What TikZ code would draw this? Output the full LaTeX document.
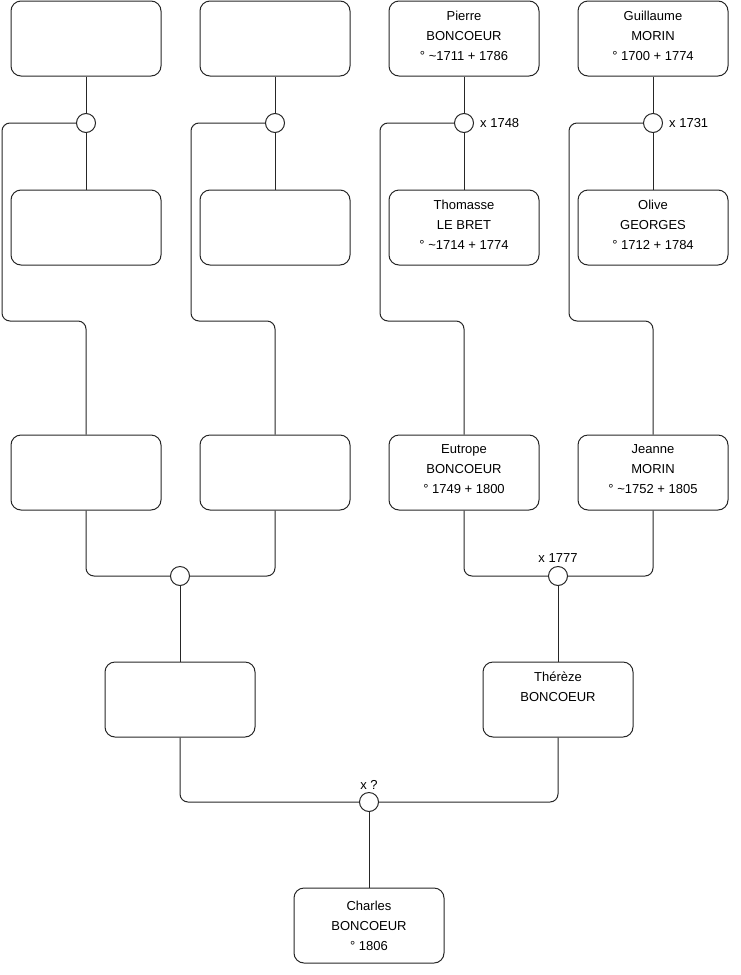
\documentclass[tikz,border=0pt]{standalone}
\usepackage{fontspec}
\setmainfont{Liberation Sans}
\begin{document}
\begin{tikzpicture}[x=1pt,y=-1pt,
  person/.style={draw=black!85,line width=1pt,rounded corners=10pt,minimum width=150pt,minimum height=75pt,inner sep=0pt},
  ptext/.style={inner sep=0pt,align=center,font=\fontsize{13}{20}\selectfont},
  union/.style={draw=black!85,line width=1pt,circle,minimum size=19pt,inner sep=0pt,fill=white},
  link/.style={draw=black!85,line width=1pt,rounded corners=8pt},
  lbl/.style={font=\fontsize{13}{16}\selectfont,inner sep=0pt}]
\useasboundingbox (0,0) rectangle (740,975);
% row 1
\node[person] (A) at (86,38.5) {};
\node[person] (B) at (275,38.5) {};
\node[person] (C) at (464,38.5) {};
\node[person] (D) at (653,38.5) {};
% row 2
\node[person] (A2) at (86,227.5) {};
\node[person] (B2) at (275,227.5) {};
\node[person] (C2) at (464,227.5) {};
\node[person] (D2) at (653,227.5) {};
% row 3
\node[person] (E) at (86,472.5) {};
\node[person] (F) at (275,472.5) {};
\node[person] (G) at (464,472.5) {};
\node[person] (H) at (653,472.5) {};
% row 4
\node[person] (L) at (180,699.5) {};
\node[person] (T) at (558,699.5) {};
% row 5
\node[person] (Ch) at (369,925.5) {};
% texts
\node[ptext] (Ct) at ([yshift=3pt]C.center) {Pierre\\BONCOEUR\\° \textasciitilde1711 + 1786};
\node[ptext] (Dt) at ([yshift=3pt]D.center) {Guillaume\\MORIN\\° 1700 + 1774};
\node[ptext] (C2t) at ([yshift=3pt]C2.center) {Thomasse\\LE BRET\\° \textasciitilde1714 + 1774};
\node[ptext] (D2t) at ([yshift=3pt]D2.center) {Olive\\GEORGES\\° 1712 + 1784};
\node[ptext] (Gt) at ([yshift=3pt]G.center) {Eutrope\\BONCOEUR\\° 1749 + 1800};
\node[ptext] (Ht) at ([yshift=3pt]H.center) {Jeanne\\MORIN\\° \textasciitilde1752 + 1805};
\node[ptext] (Tt) at ([yshift=3pt]T.center) {Thérèze\\BONCOEUR\\\mbox{}};
\node[ptext] (Cht) at ([yshift=0pt]Ch.center) {Charles\\BONCOEUR\\° 1806};
% unions
\node[union] (m1) at (86,123) {};
\node[union] (m2) at (275,123) {};
\node[union] (m3) at (464,123) {};
\node[union] (m4) at (653,123) {};
\node[union] (m5) at (180,576) {};
\node[union] (m6) at (558,576) {};
\node[union] (m7) at (369,802) {};
% labels
\node[lbl,anchor=west] (l3) at ([xshift=6pt]m3.east) {x 1748};
\node[lbl,anchor=west] (l4) at ([xshift=6pt]m4.east) {x 1731};
\node[lbl,anchor=south] (l6) at ([yshift=3pt]m6.north) {x 1777};
\node[lbl,anchor=south] (l7) at ([yshift=2pt]m7.north) {x ?};
% links row1-2
\foreach \u/\up/\dn in {m1/A/A2,m2/B/B2,m3/C/C2,m4/D/D2}{
  \draw[link] (\up.south) -- (\u.north);
  \draw[link] (\u.south) -- (\dn.north);
}
\draw[link] (m1.west) -| (2,321) -| (E.north);
\draw[link] (m2.west) -| (191,321) -| (F.north);
\draw[link] (m3.west) -| (380,321) -| (G.north);
\draw[link] (m4.west) -| (569,321) -| (H.north);
% row 3 unions
\draw[link] (E.south) |- (m5.west);
\draw[link] (F.south) |- (m5.east);
\draw[link] (G.south) |- (m6.west);
\draw[link] (H.south) |- (m6.east);
\draw[link] (m5.south) -- (L.north);
\draw[link] (m6.south) -- (T.north);
% bottom
\draw[link] (L.south) |- (m7.west);
\draw[link] (T.south) |- (m7.east);
\draw[link] (m7.south) -- (Ch.north);
\end{tikzpicture}
\end{document}
